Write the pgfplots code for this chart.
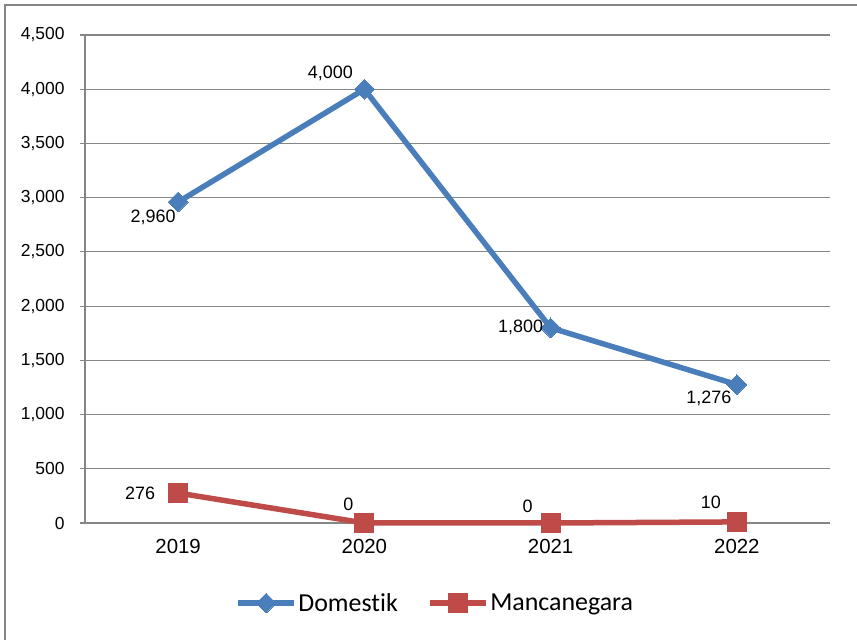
\documentclass[border=0pt]{standalone}
\usepackage{fontspec}
\setmainfont{Liberation Sans}
\newfontfamily\legfont[Ligatures={NoCommon,NoRare}]{Carlito}
\usepackage{pgfplots}
\pgfplotsset{compat=1.18}
\definecolor{dblue}{RGB}{74,126,187}
\definecolor{dred}{RGB}{190,75,72}
\definecolor{gridg}{RGB}{134,134,134}
\begin{document}
\begin{tikzpicture}
\useasboundingbox (0bp,0bp) rectangle (857bp,640bp);
\draw[gridg, line width=1.2bp] (5bp,0bp) -- (5bp,635bp) -- (857bp,635bp);
\begin{axis}[
  at={(85bp,117bp)}, anchor=south west,
  scale only axis, width=745bp, height=488bp,
  xmin=-0.5, xmax=3.5, ymin=0, ymax=4500,
  axis lines*=left,
  axis line style={gridg, line width=1.2bp},
  xtick={0,1,2,3}, xticklabels={2019,2020,2021,2022},
  xtick style={draw=none},
  extra x ticks={-0.5,0.5,1.5,2.5,3.5}, extra x tick labels={},
  extra x tick style={tick style={draw=gridg, line width=1.2bp}, grid=none},
  ytick distance=500,
  ytick style={draw=gridg, line width=1.2bp},
  tick align=outside, major tick length=5bp,
  ymajorgrids, grid style={gridg, line width=1.2bp},
  scaled ticks=false,
  /pgf/number format/.cd, 1000 sep={,}, assume math mode=true, /pgfplots/.cd,
  yticklabel style={font=\fontsize{17.5}{17.5}\selectfont, xshift=-12bp},
  xticklabel style={font=\fontsize{20.5}{20.5}\selectfont, yshift=-8bp},
  legend style={at={(0.4698,-0.164)}, anchor=center, draw=none, fill=none,
    font=\legfont\fontsize{26}{26}\selectfont, legend columns=2,
    /tikz/every even column/.append style={column sep=28bp},
    inner sep=0pt, nodes={inner sep=1.5bp}},
  legend image code/.code={\draw[mark repeat=2, mark phase=2, #1] plot coordinates {(0bp,0bp) (28bp,0bp) (56bp,0bp)};},
  clip=false,
]
\addplot[dblue, line width=5.5bp, mark=square*, mark size=7bp, mark options={rotate=45, line width=0pt}]
  coordinates {(0,2960) (1,4000) (2,1800) (3,1276)};
\addlegendentry{Domestik}
\addplot[dred, line width=5.5bp, mark=square*, mark size=9.5bp, mark options={line width=0pt}]
  coordinates {(0,276) (1,0) (2,0) (3,10)};
\addlegendentry{Mancanegara}
\addplot[draw=none, mark=none, forget plot, nodes near coords, point meta=explicit symbolic,
  visualization depends on={\thisrow{dx}\as\dx},
  visualization depends on={\thisrow{dy}\as\dy},
  every node near coord/.append style={anchor=center, xshift=\dx bp, yshift=\dy bp, font=\fontsize{18}{18}\selectfont, text=black}]
  table[x=x, y=y, meta=lab] {
x y lab dx dy
0 2960 2,960 -25 -15
1 4000 4,000 -34 16
2 1800 1,800 -30 0
3 1276 1,276 -28 -14
0 276 276 -38 0
1 0 0 -16 19
2 0 0 -23 17
3 10 10 -26 20
};
\end{axis}
\end{tikzpicture}
\end{document}
